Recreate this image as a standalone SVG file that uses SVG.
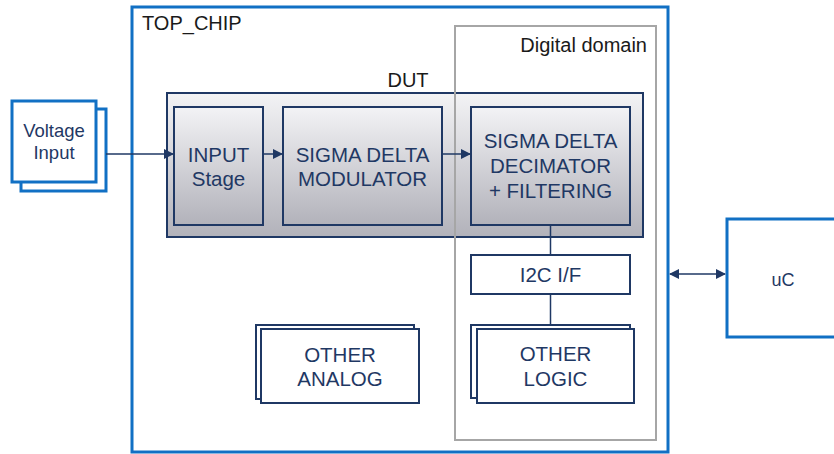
<svg xmlns="http://www.w3.org/2000/svg" width="834" height="454" viewBox="0 0 834 454">
<style>
.blue{fill:#fff;stroke:#1170c4;stroke-width:3}
.navy{fill:#fff;stroke:#1f3864;stroke-width:2}
.grad{fill:url(#g);stroke:#1f3864;stroke-width:2}
.conn{stroke:#1f3864;stroke-width:1.5;fill:none}
text{font-family:"Liberation Sans",Arial,sans-serif}
.t{fill:#1f3864;font-size:20.5px;text-anchor:middle}
.k{fill:#1a1a1a;font-size:20px}
</style>
<defs>
<linearGradient id="g" x1="0" y1="0" x2="0" y2="1">
<stop offset="0" stop-color="#f3f3f5"/>
<stop offset="1" stop-color="#b2b2ba"/>
</linearGradient>
<marker id="ah" viewBox="0 0 10 10" refX="9" refY="5" markerWidth="10" markerHeight="10" markerUnits="userSpaceOnUse" orient="auto-start-reverse">
<path d="M0,0 L10,5 L0,10 z" fill="#1f3864"/>
</marker>
</defs>
<rect width="834" height="454" fill="#fff"/>
<g id="top_chip">
<rect class="blue" x="132" y="7" width="536" height="445"/>
<text class="k" x="142" y="30">TOP_CHIP</text>
</g>
<g id="dut">
<rect class="grad" x="167" y="93" width="476" height="144"/>
<text class="k" x="408" y="87" text-anchor="middle">DUT</text>
</g>
<g id="digital_domain">
<rect x="455" y="26" width="201" height="414" fill="none" stroke="#a6a6a6" stroke-width="2"/>
<text class="k" x="647" y="52" text-anchor="end">Digital domain</text>
</g>
<g id="voltage_input">
<rect class="blue" x="21" y="109" width="85" height="82"/>
<rect class="blue" x="12" y="101" width="84" height="81"/>
<text class="t" x="54" y="137" style="font-size:18.5px">Voltage</text>
<text class="t" x="54" y="159" style="font-size:18.5px">Input</text>
</g>
<g id="input_stage">
<rect class="grad" x="174" y="107" width="89" height="118"/>
<text class="t" x="218.5" y="162">INPUT</text>
<text class="t" x="218.5" y="186">Stage</text>
</g>
<g id="modulator">
<rect class="grad" x="283" y="107" width="159" height="118"/>
<text class="t" x="362.5" y="162">SIGMA DELTA</text>
<text class="t" x="362.5" y="186">MODULATOR</text>
</g>
<g id="decimator">
<rect class="grad" x="471" y="107" width="159" height="118"/>
<text class="t" x="550.5" y="148">SIGMA DELTA</text>
<text class="t" x="550.5" y="173">DECIMATOR</text>
<text class="t" x="550.5" y="198">+ FILTERING</text>
</g>
<g id="i2c">
<rect class="navy" x="471" y="255" width="159" height="39"/>
<text class="t" x="550.5" y="282">I2C I/F</text>
</g>
<g id="other_logic">
<rect class="navy" x="471" y="325" width="159" height="73"/>
<rect class="navy" x="477" y="329" width="157" height="74"/>
<text class="t" x="555.5" y="361">OTHER</text>
<text class="t" x="555.5" y="386">LOGIC</text>
</g>
<g id="other_analog">
<rect class="navy" x="256" y="325" width="158" height="74"/>
<rect class="navy" x="261" y="329" width="158" height="74"/>
<text class="t" x="340" y="362">OTHER</text>
<text class="t" x="340" y="386">ANALOG</text>
</g>
<g id="uc">
<rect class="blue" x="727" y="219" width="120" height="118"/>
<text class="t" x="783" y="286" style="font-size:18px">uC</text>
</g>
<g id="connectors">
<line class="conn" x1="106" y1="154" x2="173" y2="154" marker-end="url(#ah)"/>
<line class="conn" x1="263" y1="154" x2="282" y2="154" marker-end="url(#ah)"/>
<line class="conn" x1="442" y1="154" x2="470" y2="154" marker-end="url(#ah)"/>
<line class="conn" x1="550.5" y1="225" x2="550.5" y2="255"/>
<line class="conn" x1="550.5" y1="294" x2="550.5" y2="325"/>
<line class="conn" x1="670" y1="274" x2="725" y2="274" marker-start="url(#ah)" marker-end="url(#ah)"/>
</g>
</svg>
